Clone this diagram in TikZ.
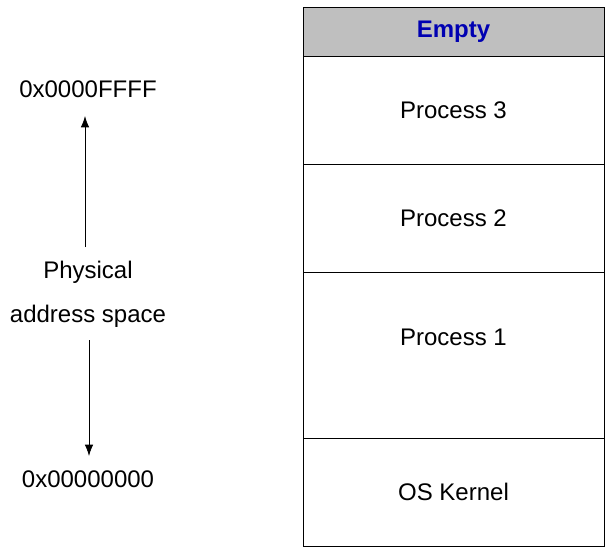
\documentclass[tikz,border=0pt]{standalone}
\usepackage{fontspec}
\setmainfont{Liberation Sans}
\usetikzlibrary{arrows.meta}
\tikzset{
	seg/.style={draw, thin, minimum width=150.5pt, inner sep=0pt, font=\fontsize{12}{14}\selectfont},
	lbl/.style={inner sep=1pt, font=\fontsize{12}{14}\selectfont}
}
\begin{document}
\begin{tikzpicture}[x=0.5pt,y=-0.5pt]
	\useasboundingbox (0,0) rectangle (614,558);

	%Memory segments
	\node [seg, fill=black!25, minimum height=24.5pt, text=blue!70!black, font=\fontsize{12}{14}\selectfont\bfseries] (empty) at (453.5,31.5) {Empty};
	\node [seg, minimum height=54pt] (p3) at (453.5,110) {\raisebox{-1.5pt}{Process 3}};
	\node [seg, minimum height=54pt] (p2) at (453.5,218) {\raisebox{-1.5pt}{Process 2}};
	\node [seg, minimum height=83pt] (p1) at (453.5,355) {};
	\node [lbl] (p1t) at (453.5,337) {Process 1};
	\node [seg, minimum height=54pt] (os) at (453.5,492) {\raisebox{-1.5pt}{OS Kernel}};

	%Address labels
	\node [lbl] (top) at (88,89) {0x0000FFFF};
	\node [lbl] (phys) at (88,272) {Physical};
	\node [lbl] (addr) at (88,316) {address space};
	\node [lbl] (bot) at (88,479) {0x00000000};

	%Arrows
	\coordinate (up) at (85,247);
	\coordinate (upend) at (85,116);
	\coordinate (dn) at (89,340);
	\coordinate (dnend) at (89,456);
	\draw [-{Latex[length=2mm,width=1.5mm]}] (up) -- (upend);
	\draw [-{Latex[length=2mm,width=1.5mm]}] (dn) -- (dnend);
\end{tikzpicture}
\end{document}
